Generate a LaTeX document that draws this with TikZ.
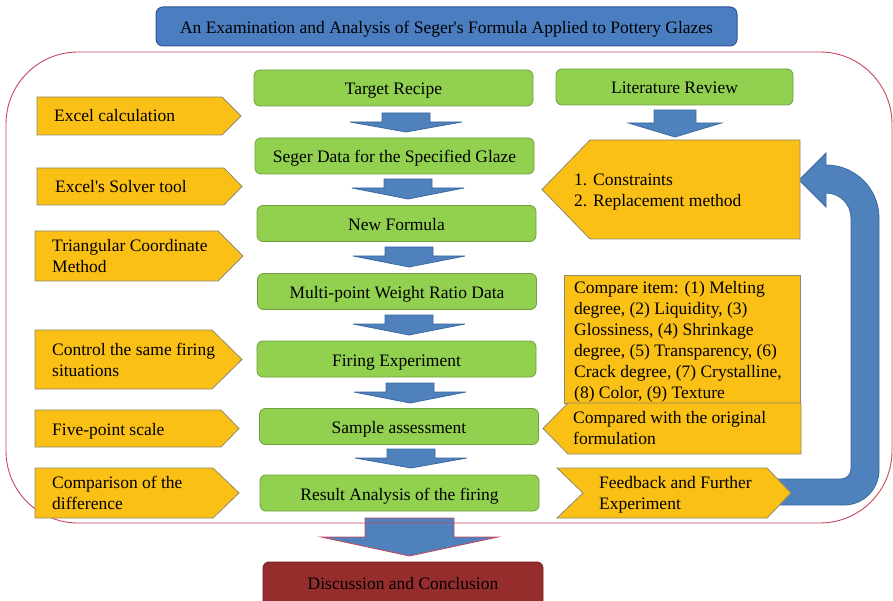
\documentclass[tikz,border=0pt]{standalone}
\usepackage{fontspec}
\setmainfont{Liberation Serif}
\definecolor{gfill}{HTML}{92D050}
\definecolor{gline}{HTML}{6E9F3C}
\definecolor{yfill}{HTML}{FAC016}
\definecolor{yline}{HTML}{8F8A70}
\definecolor{bfill}{HTML}{4F81BD}
\definecolor{bline}{HTML}{3B6AA0}
\definecolor{tfill}{HTML}{4A7EC0}
\definecolor{tline}{HTML}{2F5597}
\definecolor{oline}{HTML}{C8465A}
\definecolor{dfill}{HTML}{962D2D}
\definecolor{dline}{HTML}{6E1E1E}
\newcommand{\dnarrow}[7][]{\path[bluearrow,#1] ({#2-#3},#4) -- ({#2+#3},#4) -- ({#2+#3},#5) -- ({#2+#6},#5) -- (#2,#7) -- ({#2-#6},#5) -- ({#2-#3},#5) -- cycle;}
\newcommand{\rpent}[5]{\path[yshape] (#1,#4) -- (#2,#4) -- (#3,{(#4+#5)/2}) -- (#2,#5) -- (#1,#5) -- cycle;}
\begin{document}
\begin{tikzpicture}[x=1pt,y=-1pt,
  every node/.style={font=\fontsize{17.5}{21}\selectfont},
  greenbox/.style={draw=gline, fill=gfill, rounded corners=6pt, line width=0.8pt, minimum width=279pt, minimum height=36pt, inner sep=0pt, text height=14pt, text depth=0pt},
  yshape/.style={draw=yline, fill=yfill, line width=0.8pt},
  ytext/.style={anchor=west, align=left, inner sep=0pt},
  bluearrow/.style={draw=bline, fill=bfill, line width=0.8pt}]
\useasboundingbox (0,0) rectangle (893,601);
% big arrow to conclusion
\dnarrow[draw=oline]{409.5}{44.5}{518}{537}{88.5}{556}
% outer frame
\draw[draw=oline, line width=0.9pt, rounded corners=72pt] (6,52) rectangle (892,523);
% feedback loop arrow
\path[bluearrow] (775,479) -- (841,479) .. controls (846.5,479) and (851,474.5) .. (851,469) -- (851,218) .. controls (851,204.2) and (839.8,193) .. (826,193) -- (826,207) -- (799,180) -- (826,153) -- (826,165) .. controls (855.3,165) and (879,188.7) .. (879,218) -- (879,470) .. controls (879,489.3) and (863.3,505) .. (844,505) -- (775,505) -- cycle;
% title
\node[draw=tline, fill=tfill, rounded corners=7pt, minimum width=581pt, minimum height=39pt, inner sep=0pt, line width=1pt, text height=13.6pt, text depth=0pt] (title) at (446.5,26.5) {An Examination and Analysis of Seger\textquotesingle s Formula Applied to Pottery Glazes};
% centre column
\node[greenbox] (tr) at (393.5,88) {Target Recipe};
\node[greenbox] (sd) at (394.5,156) {Seger Data for the Specified Glaze};
\node[greenbox] (nf) at (396.5,223.5) {New Formula};
\node[greenbox] (mp) at (397,291.5) {Multi-point Weight Ratio Data};
\node[greenbox] (fe) at (396.5,359) {Firing Experiment};
\node[greenbox] (sa) at (399,426.5) {Sample assessment};
\node[greenbox] (ra) at (399.5,493) {Result Analysis of the firing};
\node[greenbox, minimum width=237pt] (lr) at (674.5,87) {Literature Review};
\node[draw=dline, fill=dfill, rounded corners=6pt, line width=0.8pt, minimum width=280pt, minimum height=44pt, inner sep=0pt, text height=11pt, text depth=0pt] (dc) at (403,584) {Discussion and Conclusion};
% down arrows
\dnarrow{406}{24}{113}{122}{56}{132}
\dnarrow{408}{24}{179}{188}{56}{199}
\dnarrow{409}{24}{247}{256}{56}{267}
\dnarrow{409}{24}{315}{324}{56}{335}
\dnarrow{410}{24}{383}{392}{56}{403}
\dnarrow{411}{24}{449}{458}{56}{468}
\dnarrow{675}{21}{110}{123}{46.5}{137}
% left yellow tags
\rpent{37}{222}{241}{97}{135}
\node[ytext] (y1) at (54,116) {Excel calculation};
\rpent{37}{224}{242}{168}{205}
\node[ytext] (y2) at (55,187) {Excel\textquotesingle s Solver tool};
\rpent{35}{218}{243}{231}{281}
\node[ytext] (y3) at (52,256) {Triangular Coordinate\\Method};
\rpent{35}{212}{242}{330}{389}
\node[ytext] (y4) at (52,359.5) {Control the same firing\\situations};
\rpent{35}{221}{239}{410}{447}
\node[ytext] (y5) at (52,431.5) {Five-point scale};
\rpent{35}{213}{239}{468}{518}
\node[ytext] (y6) at (52,493) {Comparison of the\\difference};
% right yellow shapes
\path[yshape] (542,189.5) -- (590,140) -- (800,140) -- (800,239) -- (590,239) -- cycle;
\node[ytext, font=\fontsize{17.5}{20.5}\selectfont] (c1) at (574,192) {1. Constraints\\2. Replacement method};
\path[yshape] (564,275) rectangle (800,403);
\node[ytext] (ci) at (574,342) {Compare item: (1) Melting\\degree, (2) Liquidity, (3)\\Glossiness, (4) Shrinkage\\degree, (5) Transparency, (6)\\Crack degree, (7) Crystalline,\\(8) Color, (9) Texture};
\path[yshape] (543,428.5) -- (568,403) -- (801,403) -- (801,454) -- (568,454) -- cycle;
\node[ytext] (co) at (573,428.5) {Compared with the original\\formulation};
\path[yshape] (557,468) -- (767,468) -- (791,493) -- (767,518) -- (557,518) -- (583,493) -- cycle;
\node[ytext] (fb) at (599,495) {Feedback and Further\\Experiment};
\end{tikzpicture}
\end{document}
